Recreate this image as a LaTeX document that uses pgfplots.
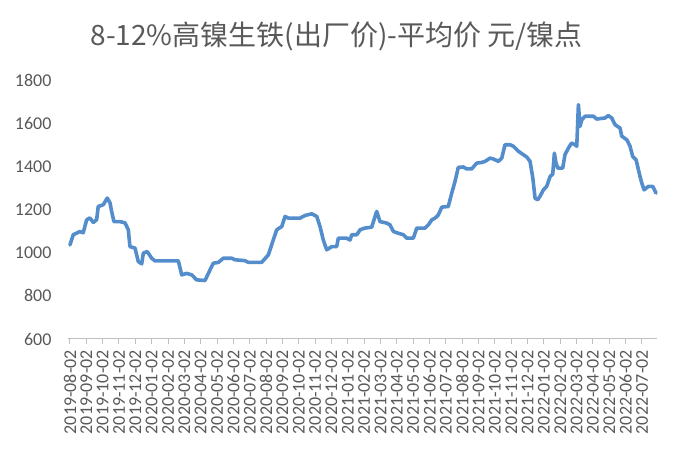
\documentclass[border=0pt]{standalone}
\usepackage{pgfplots}
\pgfplotsset{compat=1.18}
\usepackage{fontspec}
\setmainfont{Carlito}
\newfontfamily\cjk{Noto Sans CJK SC}
\definecolor{txt}{RGB}{89,89,89}
\definecolor{ln}{RGB}{84,141,204}
\definecolor{axl}{RGB}{191,191,191}
\begin{document}
\begin{tikzpicture}[x=1bp,y=1bp]
\useasboundingbox (0,0) rectangle (680,454);
\node[text=txt, font=\cjk\fontsize{28bp}{32bp}\selectfont] at (336.5,418) {8-12\%高镍生铁(出厂价)-平均价 元/镍点};
\begin{axis}[
  at={(68bp,115bp)}, anchor=south west,
  scale only axis, width=589bp, height=259bp,
  xmin=-0.12, xmax=35.92, ymin=600, ymax=1800,
  ytick={600,800,...,1800},
  xtick={0,...,35},
  xticklabels={2019-08-02,2019-09-02,2019-10-02,2019-11-02,2019-12-02,2020-01-02,2020-02-02,2020-03-02,2020-04-02,2020-05-02,2020-06-02,2020-07-02,2020-08-02,2020-09-02,2020-10-02,2020-11-02,2020-12-02,2021-01-02,2021-02-02,2021-03-02,2021-04-02,2021-05-02,2021-06-02,2021-07-02,2021-08-02,2021-09-02,2021-10-02,2021-11-02,2021-12-02,2022-01-02,2022-02-02,2022-03-02,2022-04-02,2022-05-02,2022-06-02,2022-07-02},
  axis x line*=bottom, axis y line*=left,
  x axis line style={draw=axl, line width=1bp, -},
  y axis line style={draw=none},
  xtick style={draw=axl, line width=1bp},
  ytick style={draw=none},
  tick align=outside, major tick length=5bp,
  xtick pos=bottom,
  /pgf/number format/assume math mode=true,
  /pgf/number format/set thousands separator={},
  tick label style={text=txt, font=\fontsize{18bp}{20bp}\selectfont},
  xticklabel style={rotate=90, anchor=east, inner sep=6bp},
  yticklabel style={anchor=east, xshift=-8bp},
  clip=false,
]
\addplot[ln, line width=3.6bp, line join=round, line cap=round] coordinates {
(0,1036)(0.20,1083)(0.61,1098)(0.81,1092)(1.02,1152)(1.22,1161)(1.43,1140)(1.63,1152)(1.73,1214)(2.04,1222)(2.28,1253)(2.45,1231)(2.55,1191)(2.69,1144)(3.06,1144)(3.37,1138)(3.57,1106)(3.67,1028)(3.98,1021)(4.18,959)(4.39,948)(4.49,998)(4.73,1005)(5.00,974)(5.20,962)(6.63,962)(6.84,897)(7.14,904)(7.45,897)(7.75,874)(8.26,871)(8.57,920)(8.77,951)(9.08,955)(9.38,974)(9.90,974)(10.10,967)(10.71,963)(10.91,955)(11.73,955)(12.14,990)(12.44,1059)(12.65,1106)(12.96,1121)(13.16,1168)(13.36,1160)(14.08,1160)(14.38,1172)(14.79,1180)(15.10,1168)(15.30,1121)(15.50,1059)(15.71,1013)(16.02,1028)(16.32,1028)(16.42,1067)(16.93,1067)(17.14,1059)(17.24,1083)(17.55,1083)(17.75,1106)(18.05,1114)(18.46,1118)(18.67,1168)(18.77,1191)(18.97,1144)(19.38,1137)(19.58,1129)(19.79,1098)(20.09,1090)(20.40,1083)(20.61,1067)(21.01,1067)(21.22,1114)(21.73,1114)(21.93,1129)(22.14,1152)(22.34,1160)(22.54,1175)(22.75,1211)(23.15,1214)(23.36,1276)(23.56,1330)(23.76,1395)(24.07,1397)(24.27,1388)(24.58,1388)(24.89,1415)(25.20,1418)(25.40,1423)(25.70,1438)(25.91,1434)(26.21,1423)(26.42,1438)(26.62,1500)(26.93,1500)(27.13,1493)(27.43,1470)(27.74,1454)(27.95,1443)(28.15,1423)(28.32,1346)(28.46,1252)(28.62,1245)(28.76,1261)(28.97,1291)(29.17,1307)(29.38,1353)(29.54,1364)(29.64,1461)(29.74,1415)(29.85,1392)(30.15,1392)(30.29,1454)(30.50,1485)(30.70,1508)(30.91,1500)(31.01,1493)(31.11,1686)(31.21,1585)(31.32,1616)(31.52,1632)(32.03,1632)(32.23,1619)(32.74,1624)(32.94,1635)(33.15,1624)(33.35,1593)(33.66,1577)(33.76,1540)(34.07,1523)(34.27,1493)(34.43,1446)(34.64,1430)(34.88,1353)(34.99,1322)(35.13,1291)(35.39,1307)(35.66,1307)(35.86,1276)
};
\end{axis}
\end{tikzpicture}
\end{document}
